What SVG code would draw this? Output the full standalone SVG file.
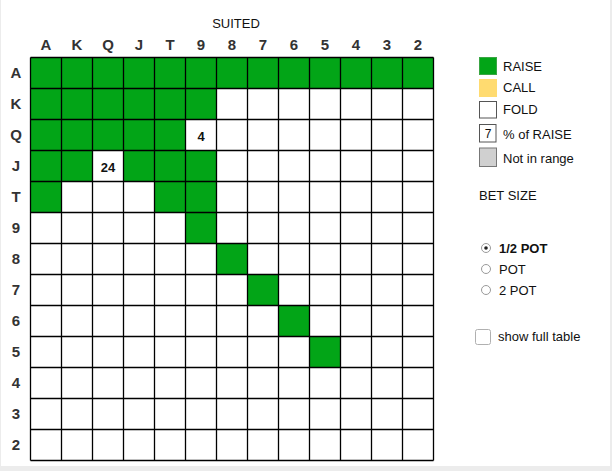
<svg xmlns="http://www.w3.org/2000/svg" width="612" height="471" viewBox="0 0 612 471">
<style>
.hdr{font-family:"Liberation Sans",Arial,sans-serif;font-size:15px;font-weight:bold;fill:#333;text-anchor:middle}
.lg{font-family:"Liberation Sans",Arial,sans-serif;font-size:13px;fill:#111}
.num{font-family:"Liberation Sans",Arial,sans-serif;font-size:13px;font-weight:bold;fill:#111;text-anchor:middle}
.g{fill:#02a517}
.radio{fill:#fff;stroke:#9a9a9a;stroke-width:1}
</style>
<rect x="0" y="0" width="612" height="471" fill="#ececec"/>
<rect x="1" y="0" width="609" height="466" fill="#fff"/>
<text x="236" y="28" class="lg" text-anchor="middle">SUITED</text>
<g id="col-headers">
<text class="hdr" x="46" y="50">A</text><text class="hdr" x="77" y="50">K</text><text class="hdr" x="108" y="50">Q</text><text class="hdr" x="139" y="50">J</text><text class="hdr" x="170" y="50">T</text><text class="hdr" x="201" y="50">9</text><text class="hdr" x="232" y="50">8</text><text class="hdr" x="263" y="50">7</text><text class="hdr" x="294" y="50">6</text><text class="hdr" x="325" y="50">5</text><text class="hdr" x="356" y="50">4</text><text class="hdr" x="387" y="50">3</text><text class="hdr" x="418" y="50">2</text>
</g>
<g id="row-headers">
<text class="hdr" x="16" y="78">A</text><text class="hdr" x="16" y="109">K</text><text class="hdr" x="16" y="140">Q</text><text class="hdr" x="16" y="171">J</text><text class="hdr" x="16" y="202">T</text><text class="hdr" x="16" y="233">9</text><text class="hdr" x="16" y="264">8</text><text class="hdr" x="16" y="295">7</text><text class="hdr" x="16" y="326">6</text><text class="hdr" x="16" y="357">5</text><text class="hdr" x="16" y="388">4</text><text class="hdr" x="16" y="419">3</text><text class="hdr" x="16" y="450">2</text>
</g>
<g id="grid">
<rect x="30.5" y="57.5" width="403" height="403" fill="#fff"/>
<rect class="g" x="30.5" y="57.5" width="403" height="31"/>
<rect class="g" x="30.5" y="88.5" width="186" height="31"/>
<rect class="g" x="30.5" y="119.5" width="155" height="31"/>
<rect class="g" x="30.5" y="150.5" width="62" height="31"/>
<rect class="g" x="123.5" y="150.5" width="93" height="31"/>
<rect class="g" x="30.5" y="181.5" width="31" height="31"/>
<rect class="g" x="154.5" y="181.5" width="62" height="31"/>
<rect class="g" x="185.5" y="212.5" width="31" height="31"/>
<rect class="g" x="216.5" y="243.5" width="31" height="31"/>
<rect class="g" x="247.5" y="274.5" width="31" height="31"/>
<rect class="g" x="278.5" y="305.5" width="31" height="31"/>
<rect class="g" x="309.5" y="336.5" width="31" height="31"/>
<path stroke="#000" stroke-width="1.3" fill="none" d="M30.5 57.5V460.5M61.5 57.5V460.5M92.5 57.5V460.5M123.5 57.5V460.5M154.5 57.5V460.5M185.5 57.5V460.5M216.5 57.5V460.5M247.5 57.5V460.5M278.5 57.5V460.5M309.5 57.5V460.5M340.5 57.5V460.5M371.5 57.5V460.5M402.5 57.5V460.5M433.5 57.5V460.5M30.5 57.5H433.5M30.5 88.5H433.5M30.5 119.5H433.5M30.5 150.5H433.5M30.5 181.5H433.5M30.5 212.5H433.5M30.5 243.5H433.5M30.5 274.5H433.5M30.5 305.5H433.5M30.5 336.5H433.5M30.5 367.5H433.5M30.5 398.5H433.5M30.5 429.5H433.5M30.5 460.5H433.5"/>
<text class="num" x="201" y="140.5">4</text>
<text class="num" x="108" y="171.5">24</text>
</g>
<g id="legend">
<rect x="479.5" y="57.5" width="17" height="17" fill="#02a517" stroke="#3aa544"/>
<text class="lg" x="503" y="71">RAISE</text>
<rect x="479.5" y="79.5" width="17" height="17" fill="#ffdb70" stroke="#ffdb70"/>
<text class="lg" x="503" y="92">CALL</text>
<rect x="479.5" y="101.5" width="17" height="16.5" fill="#fff" stroke="#555"/>
<text class="lg" x="503" y="114">FOLD</text>
<rect x="479.5" y="124.5" width="16.5" height="17.5" fill="#fff" stroke="#555"/>
<text x="488" y="137.5" class="num" style="font-weight:normal;font-size:12px">7</text>
<text class="lg" x="503" y="139">% of RAISE</text>
<rect x="479.5" y="148" width="17" height="18.5" fill="#d0d0d0" stroke="#777"/>
<text class="lg" x="503" y="163">Not in range</text>
</g>
<g id="bet-size">
<text class="lg" x="479" y="200">BET SIZE</text>
<circle class="radio" cx="486" cy="248" r="4.5"/>
<circle cx="486" cy="248" r="1.8" fill="#222"/>
<text class="lg" x="499" y="253" font-weight="bold">1/2 POT</text>
<circle class="radio" cx="486" cy="269" r="4.5"/>
<text class="lg" x="499" y="274">POT</text>
<circle class="radio" cx="486" cy="290" r="4.5"/>
<text class="lg" x="499" y="295">2 POT</text>
</g>
<g id="show-full">
<rect x="475.5" y="329.5" width="15" height="15" rx="2" fill="#fff" stroke="#b0b0b0"/>
<text class="lg" x="498" y="341">show full table</text>
</g>
</svg>
